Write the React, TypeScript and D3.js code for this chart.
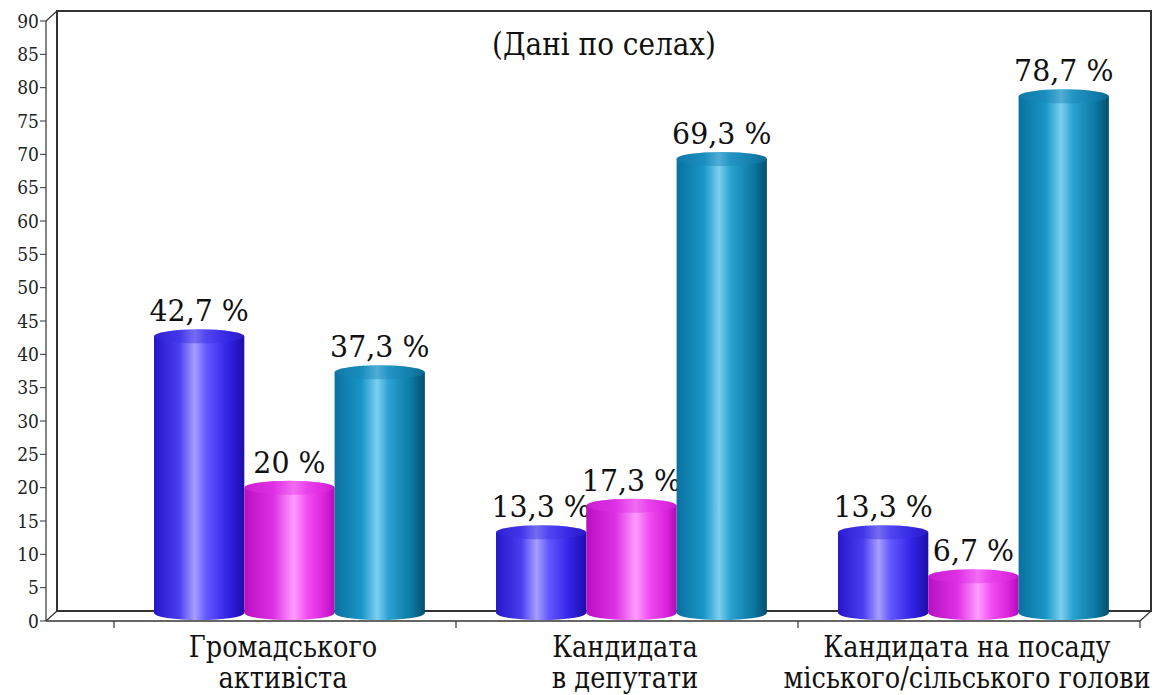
import React from "react";
import * as d3 from "d3";

const categories = ["Громадського активіста", "Кандидата в депутати", "Кандидата на посаду міського/сільського голови"];
const categoryLines = [["Громадського", "активіста"], ["Кандидата", "в депутати"], ["Кандидата на посаду", "міського/сільського голови"]];
const seriesNames = ["s1", "s2", "s3"];
const series1 = [42.7, 13.3, 13.3];
const series2 = [20, 17.3, 6.7];
const series3 = [37.3, 69.3, 78.7];
const yTicks = d3.range(0, 91, 5);
const title = "(Дані по селах)";

const W = 1166;
const H = 695;
const axisX = 46;
const yBottom = 621;
const yTop = 21;
const depthX = 11;
const depthY = 10;
const catStart = 114;
const catEnd = 1140;
const FONT = "DejaVu Serif, Liberation Serif, serif";

const gradients = [
  { id: "gBlue", stops: [["0%", "#2616c8"], ["28%", "#4a3ef0"], ["45%", "#a69eff"], ["58%", "#6458ff"], ["82%", "#3222e6"], ["100%", "#1c0ea8"]], top: "#3a2ee0" },
  { id: "gPink", stops: [["0%", "#b810c0"], ["32%", "#dc30e4"], ["55%", "#ff9cff"], ["70%", "#f24cf2"], ["90%", "#d820d8"], ["100%", "#b00cb4"]], top: "#e030e4" },
  { id: "gTeal", stops: [["0%", "#0a70a0"], ["30%", "#1896c6"], ["47%", "#7ccff0"], ["60%", "#2aa2d0"], ["85%", "#0a78a2"], ["100%", "#05506e"]], top: "#1a86b6" },
];

const fmt = (v: number) => String(v).replace(".", ",") + " %";

export default function App() {
  const y = d3.scaleLinear().domain([0, 90]).range([yBottom, yTop]);
  const x = d3.scaleBand<string>().domain(categories).range([catStart, catEnd]).padding(0);
  const bw = x.bandwidth();
  const inner = d3.scaleBand<string>().domain(seriesNames).range([bw * 0.117, bw * 0.909]).padding(0);
  const data = [series1, series2, series3];
  const ry = 7;

  return (
    <svg width={W} height={H} style={{ position: "absolute", left: 0, top: 0, background: "#fff" }} fontFamily={FONT}>
      <defs>
        {gradients.map((g) => (
          <linearGradient key={g.id} id={g.id} x1="0" x2="1" y1="0" y2="0">
            {g.stops.map(([o, c]) => (
              <stop key={o} offset={o} stopColor={c} />
            ))}
          </linearGradient>
        ))}
      </defs>
      <rect width={W} height={H} fill="#fff" />
      <rect x={axisX + depthX} y={yTop - depthY} width={catEnd - axisX} height={yBottom - yTop} fill="#fff" stroke="#333" strokeWidth={2} />
      <line x1={axisX} y1={yTop} x2={axisX + depthX} y2={yTop - depthY} stroke="#333" strokeWidth={1.2} />
      <line x1={axisX} y1={yBottom} x2={axisX + depthX} y2={yBottom - depthY} stroke="#333" strokeWidth={1.2} />
      <line x1={catEnd} y1={yBottom} x2={catEnd + depthX} y2={yBottom - depthY} stroke="#333" strokeWidth={1.2} />
      <line x1={axisX} y1={yTop} x2={axisX} y2={yBottom} stroke="#333" strokeWidth={1.2} />
      <line x1={axisX} y1={yBottom} x2={catEnd} y2={yBottom} stroke="#333" strokeWidth={1.5} />
      {yTicks.map((t) => (
        <g key={t}>
          <line x1={axisX - 6} x2={axisX} y1={y(t)} y2={y(t)} stroke="#333" />
          <text x={axisX - 7} y={y(t)} dy="0.35em" textAnchor="end" fontSize={19} fill="#222" transform={`translate(${(axisX - 7) * 0.1},0) scale(0.9,1)`}>{t}</text>
        </g>
      ))}
      {[catStart, ...categories.map((c) => (x(c) as number) + bw)].map((tx, i) => (
        <line key={i} x1={tx} x2={tx} y1={yBottom} y2={yBottom + 7} stroke="#333" strokeWidth={1.2} />
      ))}
      <text transform="translate(604,55) scale(0.9,1)" textAnchor="middle" fontSize={31} fill="#111">{title}</text>
      {categories.map((c, ci) =>
        data.map((s, si) => {
          const x0 = (x(c) as number) + (inner(seriesNames[si]) as number);
          const w = inner.bandwidth();
          const yT = y(s[ci]);
          const yB = y(0) - 1;
          const g = gradients[si];
          const d = `M${x0},${yT} L${x0},${yB - ry} A${w / 2},${ry} 0 0 0 ${x0 + w},${yB - ry} L${x0 + w},${yT} Z`;
          return (
            <g key={`${ci}-${si}`}>
              <path d={d} fill={`url(#${g.id})`} />
              <ellipse cx={x0 + w / 2} cy={yT} rx={w / 2} ry={ry} fill={`url(#${g.id})`} />
              <ellipse cx={x0 + w / 2} cy={yT} rx={w / 2} ry={ry} fill={g.top} opacity={0.45} />
              <text transform={`translate(${x0 + w / 2},${yT - 15}) scale(0.98,1)`} textAnchor="middle" fontSize={29} fill="#111">{fmt(s[ci])}</text>
            </g>
          );
        })
      )}
      {categories.map((c, ci) => {
        const cx = (x(c) as number) + bw / 2 - 2;
        return categoryLines[ci].map((ln, li) => (
          <text key={`${ci}-${li}`} transform={`translate(${cx},${657 + li * 31}) scale(0.95,1.08)`} textAnchor="middle" fontSize={27} fill="#111">{ln}</text>
        ));
      })}
    </svg>
  );
}
